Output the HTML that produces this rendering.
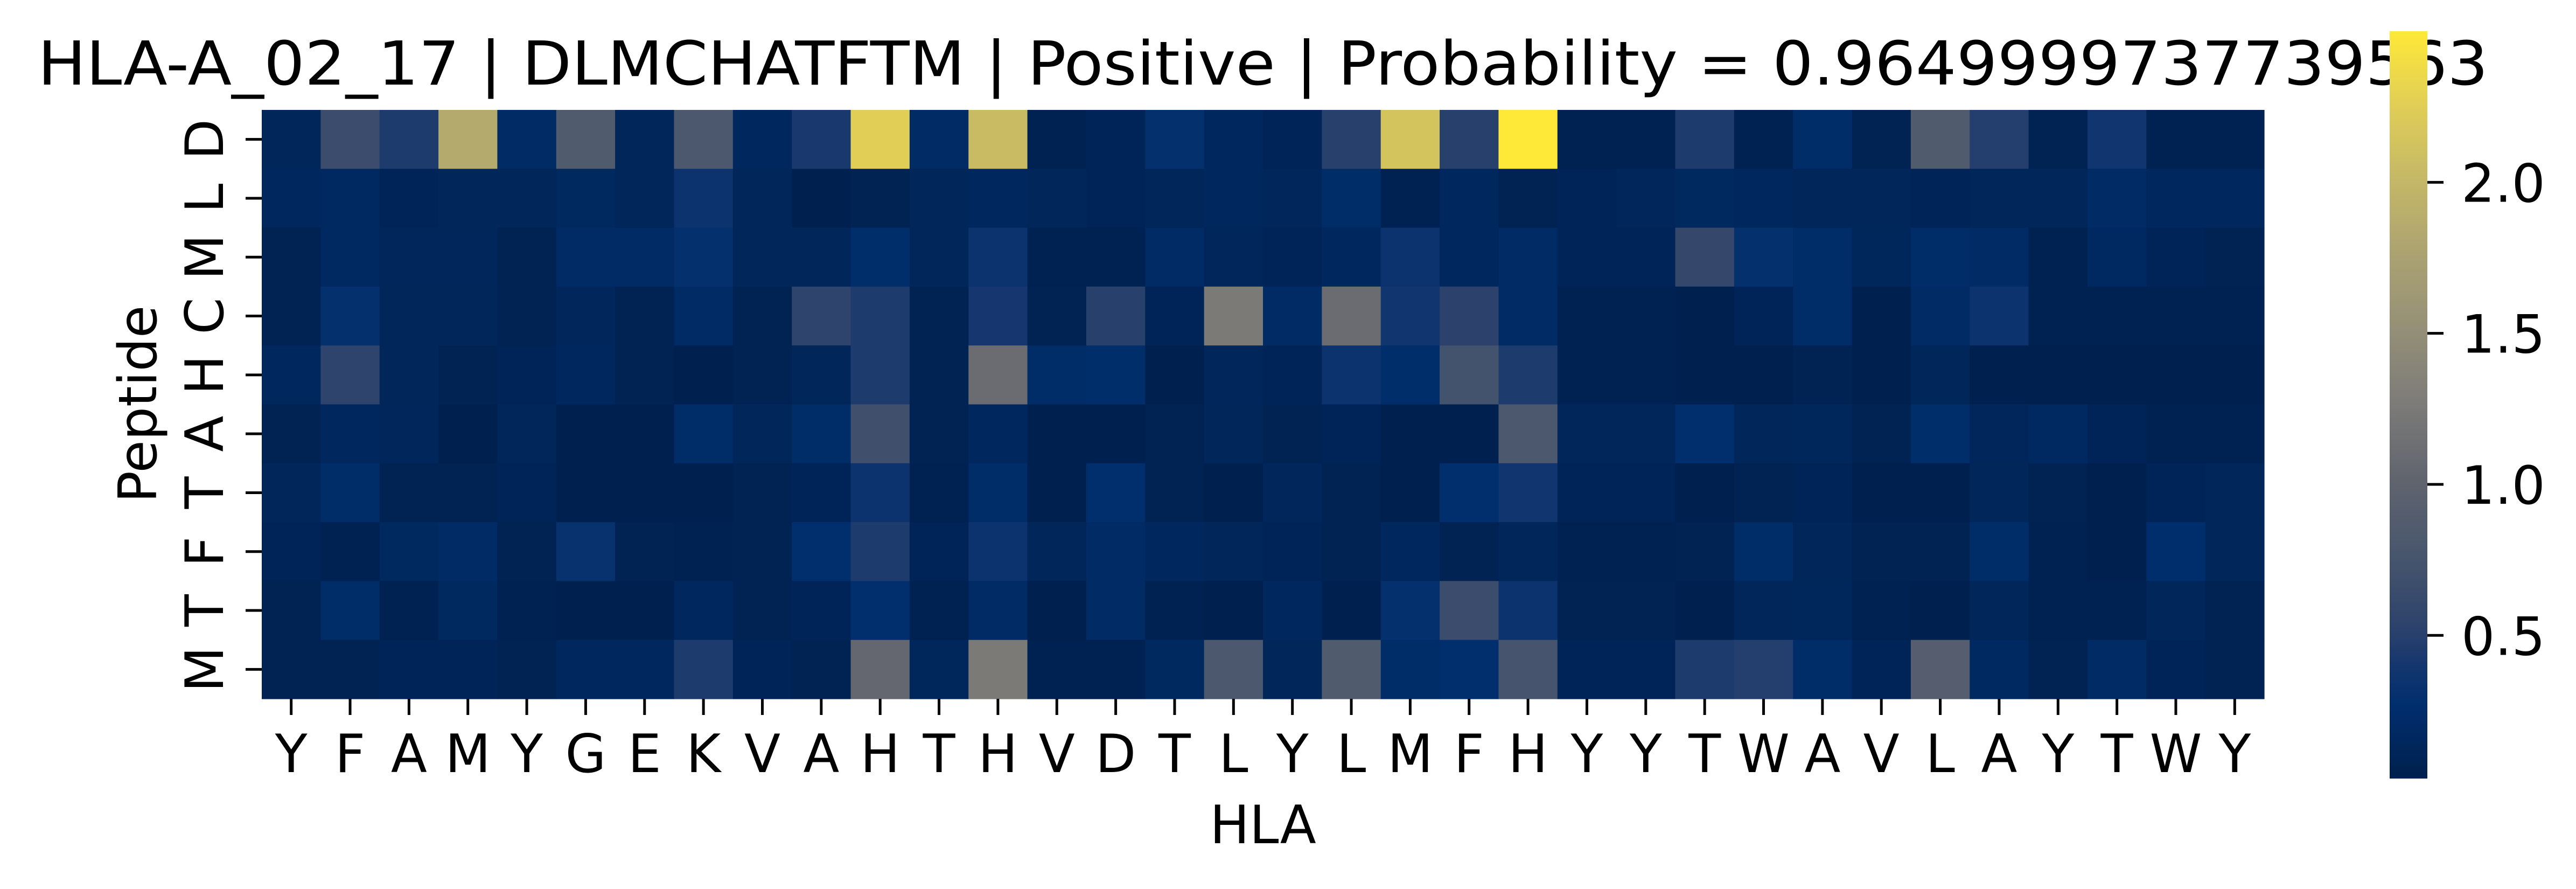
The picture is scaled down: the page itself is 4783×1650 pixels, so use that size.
<!DOCTYPE html>
<html><head><meta charset="utf-8"><style>
html,body{margin:0;padding:0;background:#fff;}
svg text{font-family:"DejaVu Sans","Liberation Sans",sans-serif;fill:#000;}
</style></head><body>
<svg id="chart" xmlns="http://www.w3.org/2000/svg" width="4783" height="1645" viewBox="0 0 4783 1645">
<defs><linearGradient id="cbgrad" x1="0" y1="1" x2="0" y2="0"></linearGradient></defs>
<text x="2345" y="157" font-size="112" text-anchor="middle" textLength="4550" lengthAdjust="spacingAndGlyphs">HLA-A_02_17 | DLMCHATFTM | Positive | Probability = 0.9649999737739563</text>
<g id="cells"></g>
<g id="xticks"></g>
<g id="yticks"></g>
<text x="2345" y="1565" font-size="98" text-anchor="middle">HLA</text>
<text transform="translate(290,750) rotate(-90)" font-size="98" text-anchor="middle">Peptide</text>
<g id="cbar"></g>
</svg>
<script>
const hlaLabels = ["Y","F","A","M","Y","G","E","K","V","A","H","T","H","V","D","T","L","Y","L","M","F","H","Y","Y","T","W","A","V","L","A","Y","T","W","Y"];
const peptideLabels = ["D","L","M","C","H","A","T","F","T","M"];
const row0 = [0.12,0.65,0.45,1.85,0.2,0.85,0.12,0.8,0.15,0.42,2.25,0.2,2.05,0.06,0.1,0.3,0.15,0.1,0.5,2.15,0.5,2.5,0.06,0.06,0.45,0.06,0.22,0.08,0.85,0.48,0.08,0.38,0.06,0.06];
const row1 = [0.15,0.18,0.1,0.12,0.12,0.17,0.12,0.35,0.12,0.05,0.08,0.12,0.15,0.12,0.1,0.12,0.15,0.13,0.22,0.06,0.15,0.07,0.1,0.13,0.17,0.15,0.12,0.12,0.1,0.12,0.12,0.2,0.15,0.15];
const row2 = [0.07,0.18,0.13,0.13,0.08,0.2,0.2,0.3,0.12,0.12,0.25,0.12,0.35,0.06,0.06,0.2,0.13,0.1,0.15,0.35,0.15,0.2,0.1,0.1,0.6,0.3,0.22,0.14,0.22,0.2,0.06,0.18,0.1,0.08];
const row3 = [0.08,0.3,0.12,0.12,0.08,0.13,0.07,0.2,0.08,0.55,0.45,0.08,0.4,0.08,0.5,0.1,1.25,0.2,1.1,0.38,0.52,0.2,0.06,0.06,0.05,0.1,0.22,0.04,0.2,0.35,0.06,0.06,0.06,0.06];
const row4 = [0.15,0.55,0.12,0.08,0.1,0.15,0.08,0.05,0.07,0.12,0.45,0.07,1.1,0.22,0.25,0.05,0.13,0.1,0.35,0.25,0.72,0.45,0.06,0.06,0.04,0.04,0.08,0.04,0.12,0.04,0.04,0.04,0.04,0.05];
const row5 = [0.08,0.15,0.13,0.05,0.12,0.04,0.05,0.22,0.12,0.22,0.7,0.07,0.15,0.04,0.04,0.08,0.12,0.07,0.1,0.05,0.04,0.8,0.12,0.12,0.28,0.12,0.14,0.08,0.25,0.13,0.18,0.1,0.06,0.06];
const row6 = [0.12,0.22,0.08,0.08,0.1,0.05,0.05,0.04,0.07,0.1,0.35,0.06,0.22,0.05,0.28,0.07,0.04,0.13,0.07,0.04,0.28,0.38,0.1,0.1,0.05,0.08,0.1,0.05,0.05,0.12,0.07,0.05,0.1,0.12];
const row7 = [0.1,0.06,0.17,0.2,0.08,0.32,0.07,0.06,0.08,0.28,0.45,0.1,0.35,0.12,0.2,0.15,0.12,0.1,0.08,0.15,0.07,0.12,0.06,0.06,0.08,0.22,0.12,0.08,0.08,0.22,0.06,0.05,0.26,0.12];
const row8 = [0.08,0.22,0.06,0.17,0.06,0.05,0.05,0.15,0.07,0.1,0.28,0.06,0.2,0.05,0.2,0.06,0.04,0.15,0.04,0.3,0.65,0.35,0.07,0.08,0.05,0.12,0.14,0.06,0.05,0.12,0.06,0.06,0.12,0.08];
const row9 = [0.08,0.08,0.1,0.1,0.07,0.15,0.15,0.45,0.1,0.08,1.05,0.14,1.25,0.06,0.06,0.17,0.8,0.12,0.85,0.22,0.28,0.75,0.1,0.1,0.45,0.48,0.22,0.1,0.9,0.18,0.07,0.2,0.1,0.08];
const values = [row0,row1,row2,row3,row4,row5,row6,row7,row8,row9];
const cbarTicks = [0.5,1.0,1.5,2.0];
const vmin = 0.026, vmax = 2.5;

const NS = "http://www.w3.org/2000/svg";
const X0 = 486, X1 = 4204, Y0 = 204, Y1 = 1297;
const cw = (X1 - X0) / hlaLabels.length, ch = (Y1 - Y0) / peptideLabels.length;
const xPos = i => X0 + i * cw;
const yPos = j => Y0 + j * ch;
const stops = [[0,[0,32,77]],[0.1,[0,47,110]],[0.15,[20,54,110]],[0.2,[44,66,108]],[0.25,[58,76,108]],[0.3,[72,86,109]],[0.4,[96,100,110]],[0.5,[124,123,120]],[0.6,[148,143,119]],[0.7,[171,162,113]],[0.8,[196,183,103]],[0.9,[224,206,87]],[1,[254,232,56]]];
function cmap(f){
  f = Math.max(0, Math.min(1, f));
  for (let k = 1; k < stops.length; k++) {
    if (f <= stops[k][0]) {
      const [a, ca] = stops[k-1], [b, cb] = stops[k];
      const t = (f - a) / (b - a);
      const c = ca.map((v, i) => Math.round(v + (cb[i] - v) * t));
      return `rgb(${c[0]},${c[1]},${c[2]})`;
    }
  }
  return "rgb(254,232,56)";
}
const norm = v => (v - vmin) / (vmax - vmin);
function mk(tag, attrs, parent){
  const e = document.createElementNS(NS, tag);
  for (const k in attrs) e.setAttribute(k, attrs[k]);
  parent.appendChild(e);
  return e;
}
const gCells = document.getElementById("cells");
values.forEach((row, j) => row.forEach((v, i) => {
  const r = mk("rect", {x: xPos(i), y: yPos(j), width: cw + 0.6, height: ch + 0.6, fill: cmap(norm(v))}, gCells);
  
  
}));
const gx = document.getElementById("xticks");
hlaLabels.forEach((lab, i) => {
  const cx = xPos(i) + cw / 2;
  const t = mk("line", {x1: cx, x2: cx, y1: Y1, y2: Y1 + 30, stroke: "#000", "stroke-width": 5}, gx);
  
  
  const tx = mk("text", {x: cx, y: 1433, "font-size": 98, "text-anchor": "middle"}, gx);
  tx.textContent = lab;
  
  
});
const gy = document.getElementById("yticks");
peptideLabels.forEach((lab, j) => {
  const cy = yPos(j) + ch / 2;
  const t = mk("line", {x1: X0 - 30, x2: X0, y1: cy, y2: cy, stroke: "#000", "stroke-width": 5}, gy);
  
  
  const tx = mk("text", {transform: `translate(414,${cy}) rotate(-90)`, "font-size": 98, "text-anchor": "middle"}, gy);
  tx.textContent = lab;
  
  
});
const CB0 = 58, CB1 = 1445, CBX = 4437, CBW = 70;
const grad = document.getElementById("cbgrad");
for (let k = 0; k <= 40; k++) mk("stop", {offset: k / 40, "stop-color": cmap(k / 40)}, grad);
const gcb = document.getElementById("cbar");
const bar = mk("rect", {x: CBX, y: CB0, width: CBW, height: CB1 - CB0, fill: "url(#cbgrad)"}, gcb);


const cbY = v => CB1 - norm(v) * (CB1 - CB0);
cbarTicks.forEach(v => {
  const y = cbY(v);
  const t = mk("line", {x1: CBX + CBW, x2: CBX + CBW + 30, y1: y, y2: y, stroke: "#000", "stroke-width": 5}, gcb);
  
  
  const tx = mk("text", {x: 4570, y: y + 36, "font-size": 98}, gcb);
  tx.textContent = v.toFixed(1);
  
  
});
</script>
</body></html>
